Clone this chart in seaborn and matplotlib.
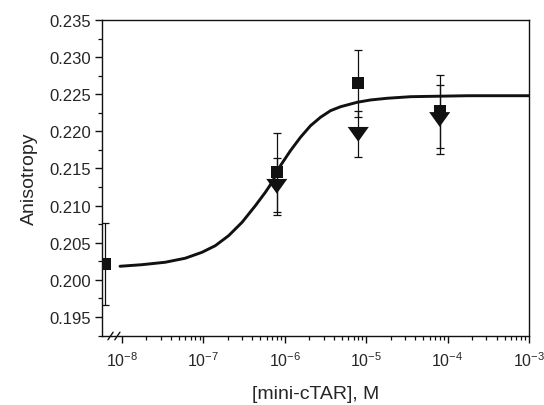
import numpy as np
import pandas as pd
import matplotlib
matplotlib.use("Agg")
import matplotlib.pyplot as plt
from matplotlib.ticker import FixedLocator, NullFormatter
import seaborn as sns

# --- Data ---
# free (no mini-cTAR) point is drawn left of the axis break
sq_conc = [6.2e-9, 8e-7, 8e-6, 8e-5]
sq_aniso = [0.2021, 0.2145, 0.2265, 0.2227]
sq_err = [0.0055, 0.0053, 0.0045, 0.0049]

tri_conc = [8e-7, 8e-6, 8e-5]
tri_aniso = [0.2126, 0.2196, 0.2216]
tri_err = [0.0038, 0.0031, 0.0046]

# fitted binding curve
fit_conc = [9.52e-9, 1.76e-8, 3.41e-8, 6.0e-8, 9.64e-8, 1.405e-7, 2.05e-7,
            2.995e-7, 4.365e-7, 5.795e-7, 7.0e-7, 8.87e-7, 1.177e-6,
            1.562e-6, 2.075e-6, 2.754e-6, 3.66e-6, 4.855e-6, 7.79e-6,
            1.136e-5, 1.824e-5, 3.53e-5, 1.76e-4, 1e-3]
fit_aniso = [0.20183, 0.20204, 0.20237, 0.20291, 0.20371, 0.20460, 0.20595,
             0.20775, 0.20999, 0.21180, 0.21314, 0.21538, 0.21740, 0.21920,
             0.22076, 0.22190, 0.22279, 0.22332, 0.22392, 0.22423, 0.22446,
             0.22467, 0.22480, 0.22480]

X_TICK_FONT = 11.5
Y_TICK_FONT = 12
LABEL_FONT = 14

# wide, flat down-pointing triangle like the original
TRI_MARKER = [(-1.0, 0.7), (1.0, 0.7), (0.0, -0.7), (-1.0, 0.7)]


def main():
    sns.set_style("ticks")
    plt.rcParams['font.family'] = ['Liberation Sans', 'DejaVu Sans']
    plt.rcParams['mathtext.fontset'] = 'custom'
    plt.rcParams['mathtext.rm'] = 'Liberation Sans'
    plt.rcParams['mathtext.it'] = 'Liberation Sans'
    plt.rcParams['mathtext.default'] = 'regular'

    fig = plt.figure(figsize=(5.44, 4.06), dpi=100)
    ax = fig.add_axes([0.1875, 0.17, 0.785, 0.7783])

    fit_df = pd.DataFrame({'conc': fit_conc, 'aniso': fit_aniso})
    sns.lineplot(data=fit_df, x='conc', y='aniso', sort=False, estimator=None,
                 color='#111111', linewidth=2.1, ax=ax, zorder=2)

    # error bars
    ax.errorbar(sq_conc, sq_aniso, yerr=sq_err, fmt='none', ecolor='#111111',
                elinewidth=0.9, capsize=2.6, capthick=0.9, zorder=3)
    ax.errorbar(tri_conc, tri_aniso, yerr=tri_err, fmt='none', ecolor='#111111',
                elinewidth=0.9, capsize=2.6, capthick=0.9, zorder=3)

    sq_df = pd.DataFrame({'conc': sq_conc, 'aniso': sq_aniso})
    tri_df = pd.DataFrame({'conc': tri_conc, 'aniso': tri_aniso})
    sns.scatterplot(data=sq_df, x='conc', y='aniso', marker='s', s=72,
                    color='#111111', edgecolor='none', ax=ax, zorder=4)
    sns.scatterplot(data=tri_df, x='conc', y='aniso', marker=TRI_MARKER, s=230,
                    color='#111111', edgecolor='none', ax=ax, zorder=5)

    ax.set_xscale('log')
    ax.set_xlim(10 ** -8.243, 1e-3)
    ax.set_ylim(0.19244, 0.235)

    majors = [1e-8, 1e-7, 1e-6, 1e-5, 1e-4, 1e-3]
    ax.xaxis.set_major_locator(FixedLocator(majors))
    minors = [m * d for d in majors[:-1] for m in range(2, 10)]
    ax.xaxis.set_minor_locator(FixedLocator(minors))
    ax.xaxis.set_minor_formatter(NullFormatter())

    yt = [0.195, 0.200, 0.205, 0.210, 0.215, 0.220, 0.225, 0.230, 0.235]
    ax.set_yticks(yt)
    ax.set_yticklabels([f"{v:.3f}" for v in yt])
    ax.yaxis.set_minor_locator(FixedLocator([v + 0.0025 for v in yt[:-1]] + [0.1925]))

    ax.tick_params(axis='both', which='major', direction='out', length=5,
                   width=1.0, color='#111111', pad=3)
    ax.tick_params(axis='both', which='minor', direction='out', length=3,
                   width=0.9, color='#111111')
    ax.tick_params(axis='x', which='major', pad=5, labelsize=X_TICK_FONT)
    ax.tick_params(axis='y', which='major', labelsize=Y_TICK_FONT)

    for sp in ax.spines.values():
        sp.set_visible(True)
        sp.set_linewidth(1.0)
        sp.set_color('#111111')

    ax.set_xlabel('[mini-cTAR], M', fontsize=LABEL_FONT, labelpad=12)
    ax.set_ylabel('Anisotropy', fontsize=LABEL_FONT, labelpad=8)

    # axis break marks on the bottom spine
    for x0 in (0.014, 0.030):
        ax.plot([x0, x0 + 0.012], [-0.012, 0.012], transform=ax.transAxes,
                color='#111111', linewidth=1.0, clip_on=False, zorder=6)

    fig.savefig('out.png', dpi=100)
    plt.close(fig)


if __name__ == "__main__":
    main()
